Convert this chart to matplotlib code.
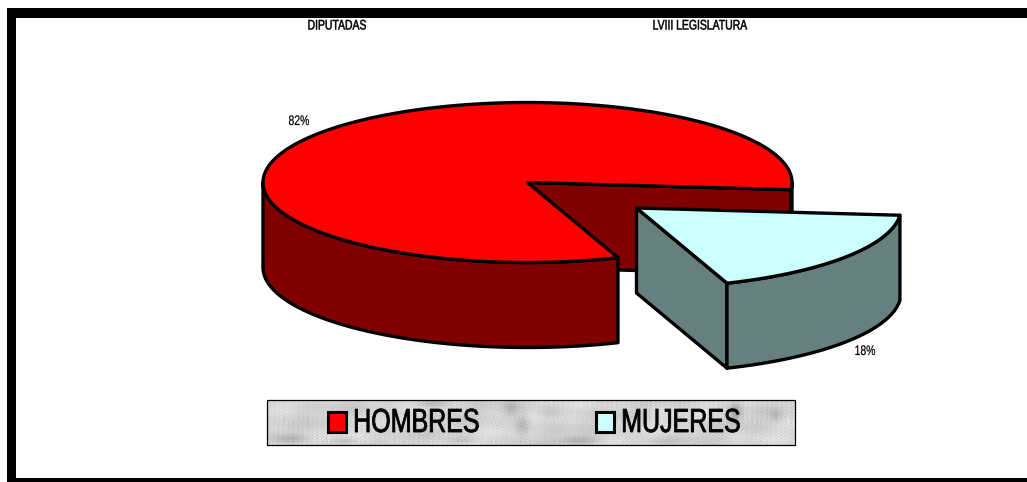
import numpy as np
import matplotlib
matplotlib.use('Agg')
import matplotlib.pyplot as plt
from matplotlib.patches import Polygon, Rectangle
from matplotlib.patheffects import AbstractPathEffect
from matplotlib.transforms import Affine2D

# Chart values
categories = ['HOMBRES', 'MUJERES']
shares = [82, 18]
pct_labels = ['82%', '18%']
titles = ['DIPUTADAS', 'LVIII LEGISLATURA']

# Pie geometry in image pixels
CX, CY = 527.5, 182.5
RX, RY = 264.5, 80
DEPTH = 85
EXPLODE = (109, 25.5)
START = -70   # angle where the big slice starts

FONT = ['Liberation Sans', 'DejaVu Sans']
EDGE = dict(edgecolor='black', linewidth=2.4, joinstyle='round')
SQUEEZE = 0.75  # the original type is set condensed


class Squeeze(AbstractPathEffect):
    # squeezes text horizontally around its centre so the text stays a normal Text artist
    def __init__(self, x0, weight, sx=SQUEEZE):
        super().__init__()
        self.x0 = x0
        self.weight = weight
        self.sx = sx

    def draw_path(self, renderer, gc, tpath, affine, rgbFace=None):
        t = affine + Affine2D().translate(-self.x0, 0).scale(self.sx, 1).translate(self.x0, 0)
        gc0 = renderer.new_gc()
        gc0.copy_properties(gc)
        gc0.set_foreground('black')
        gc0.set_linewidth(self.weight)
        renderer.draw_path(gc0, tpath, t, rgbFace)
        gc0.restore()


def label(x, y, s, size, weight):
    ax.text(x, y, s, family=FONT, fontsize=size, color='black', ha='center', va='center',
            zorder=5, path_effects=[Squeeze(x, weight)])


def arc(a0, a1, dx=0, dy=0, down=0):
    t = np.radians(np.linspace(a0, a1, 200))
    return np.column_stack([CX + dx + RX * np.cos(t), CY + dy + down - RY * np.sin(t)])


fig = plt.figure(figsize=(10.27, 4.82), dpi=100)
ax = fig.add_axes([0, 0, 1, 1])

# slice angles come from the shares
big_sweep = shares[0] / sum(shares) * 360
big_end = START + 360
notch_end = big_end - big_sweep  # right side of the notch

# --- big slice ---
centre = np.array([[CX, CY]])
right_top = arc(notch_end, notch_end)[:1]
wall = np.vstack([centre, right_top, right_top + [0, DEPTH], centre + [0, DEPTH]])
ax.add_patch(Polygon(wall, facecolor='#800000', **EDGE))

# small bit of outer wall to the right of the notch
back = np.vstack([arc(notch_end, 0), arc(0, notch_end, down=DEPTH)])
ax.add_patch(Polygon(back, facecolor='#800000', **EDGE))

# front outer wall
front = np.vstack([arc(180, big_end), arc(big_end, 180, down=DEPTH)])
ax.add_patch(Polygon(front, facecolor='#800000', **EDGE))

top = np.vstack([centre, arc(notch_end, big_end)])
ax.add_patch(Polygon(top, facecolor='#FF0000', **EDGE))

# --- exploded slice ---
dx, dy = EXPLODE
apex = centre + [dx, dy]
low_top = arc(START, START, dx, dy)[:1]
cut = np.vstack([apex, low_top, low_top + [0, DEPTH], apex + [0, DEPTH]])
ax.add_patch(Polygon(cut, facecolor='#668080', **EDGE))

outer = np.vstack([arc(START, notch_end, dx, dy), arc(notch_end, START, dx, dy, DEPTH)])
ax.add_patch(Polygon(outer, facecolor='#668080', **EDGE))

top2 = np.vstack([apex, arc(START, notch_end, dx, dy)])
ax.add_patch(Polygon(top2, facecolor='#CCFFFF', **EDGE))

# --- outer frame, open on the right ---
ax.add_patch(Rectangle((7, 8), 1020, 10, facecolor='black', edgecolor='none'))
ax.add_patch(Rectangle((7, 8), 9, 474, facecolor='black', edgecolor='none'))
ax.add_patch(Rectangle((7, 478), 1020, 4, facecolor='black', edgecolor='none'))

# --- legend with marble background ---
px, py = np.meshgrid(np.arange(267, 795, 1.5), np.arange(400, 445, 1.5))
marble = (0.83
          + 0.025 * np.sin(px / 23 + py / 9 + 1.0)
          + 0.025 * np.sin(px / 11 - py / 7) * np.sin(py / 5 + px / 17)
          + 0.020 * np.sin(px * 1.3 + py * 2.1)
          + 0.020 * np.sin(px * 2.7 - py * 1.7 + 2.0)
          + 0.015 * np.sin(px * 0.61 + py * 3.3) * np.sin(px * 1.9 - py * 0.8))
# darker smears seen in the original: (x, y, width, height, strength)
smears = [(290, 438, 16, 4, 0.10), (345, 440, 10, 3, 0.09), (432, 403, 16, 4, 0.12),
          (510, 408, 7, 8, 0.10), (522, 425, 7, 11, 0.13), (578, 440, 20, 4, 0.14),
          (548, 412, 10, 6, 0.06), (735, 412, 6, 10, 0.18), (775, 415, 6, 6, 0.09),
          (460, 440, 14, 3, 0.07), (660, 441, 18, 3, 0.06)]
for sx0, sy0, sw, sh, amount in smears:
    marble -= amount * np.exp(-((px - sx0) / sw) ** 2 - ((py - sy0) / sh) ** 2)
ax.imshow(marble, cmap='gray', vmin=0, vmax=1, extent=(267, 795, 445, 400),
          aspect='auto', interpolation='nearest', zorder=2)
ax.add_patch(Rectangle((267, 400), 528, 45, facecolor='none', edgecolor='black',
                       linewidth=0.9, zorder=3))

legend_colors = ['#FF0000', '#CCFFFF']
marker_x = [327.5, 595.5]
text_x = [416.5, 681]
for name, col, mx, tx in zip(categories, legend_colors, marker_x, text_x):
    ax.add_patch(Rectangle((mx, 411.5), 18, 20, facecolor=col, edgecolor='black',
                           linewidth=2.2, zorder=4))
    label(tx, 423.5, name, 24, 0.6)

# --- texts ---
label(337, 25.5, titles[0], 10, 0.35)
label(700, 25.5, titles[1], 10, 0.35)
label(299, 121, pct_labels[0], 10, 0.15)
label(865, 351, pct_labels[1], 10, 0.15)

ax.set_xlim(0, 1027)
ax.set_ylim(482, 0)
ax.axis('off')

fig.savefig('out.png', dpi=100, facecolor='white')
